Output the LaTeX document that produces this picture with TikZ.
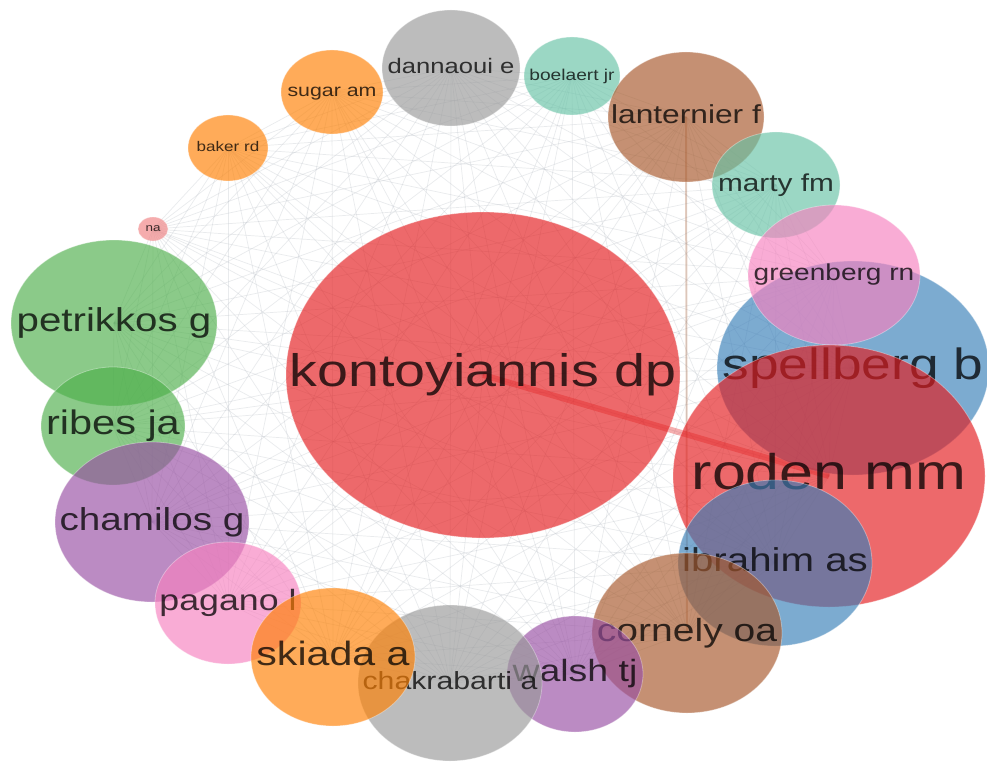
\documentclass[tikz,border=0pt]{standalone}
\usepackage{fontspec}
\usetikzlibrary{shapes.geometric,backgrounds}
\newfontfamily\lblfont[FakeStretch=1.22]{Liberation Sans}
\definecolor{cRed}{HTML}{E41A1C}
\definecolor{cGreen}{HTML}{4DAF4A}
\definecolor{cPurple}{HTML}{984EA3}
\definecolor{cOrange}{HTML}{FF7F00}
\definecolor{cBlue}{HTML}{377EB8}
\definecolor{cBrown}{HTML}{A65628}
\definecolor{cPink}{HTML}{F781BF}
\definecolor{cGray}{HTML}{999999}
\definecolor{cTeal}{HTML}{66C2A5}
\definecolor{cWeb}{HTML}{B8BEC6}
\tikzset{
  ball/.style={ellipse, inner sep=0pt, fill=#1, fill opacity=0.65, draw=white, draw opacity=0.35, line width=0.8pt},
  nm/.style={font=\lblfont\fontsize{#1}{#1}\selectfont, text=black, text opacity=0.75, inner sep=0pt},
  web/.style={draw=cWeb, line width=0.7pt, draw opacity=0.3},
  strongedge/.style={draw=cRed, line width=6pt, draw opacity=0.35},
  brownedge/.style={draw=cBrown, line width=2pt, draw opacity=0.28},
}
\newcommand\bub[8]{%
  \node[ball=#6, minimum width=#4pt, minimum height=#5pt] (#1) at (#2,#3) {};
  \node[nm=#7, anchor=base, yshift=-0.26*#7pt] (#1t) at (#1) {#8};}
\begin{document}
\begin{tikzpicture}[x=1pt,y=-1pt]
\useasboundingbox (0,0) rectangle (987,762);
\bub{na}{153}{229}{30}{24}{cRed!55}{11}{na}
\bub{bk}{228}{148}{80}{66}{cOrange}{14}{baker rd}
\bub{sg}{332}{92}{102}{84}{cOrange}{17.5}{sugar am}
\bub{dn}{451}{68}{138}{116}{cGray}{21}{dannaoui e}
\bub{bo}{572}{76}{96}{78}{cTeal}{15.7}{boelaert jr}
\bub{la}{686}{117}{156}{130}{cBrown}{26}{lanternier f}
\bub{ma}{776}{185}{128}{106}{cTeal}{24.4}{marty fm}
\bub{sp}{853}{368}{272}{214}{cBlue}{43.7}{spellberg b}
\bub{gr}{834}{275}{172}{140}{cPink}{23}{greenberg rn}
\bub{ro}{829}{476}{312}{262}{cRed}{50}{roden mm}
\bub{ib}{775}{563}{194}{166}{cBlue}{33}{ibrahim as}
\bub{ko}{483}{375}{394}{326}{cRed}{45.6}{kontoyiannis dp}
\bub{pe}{114}{323}{206}{166}{cGreen}{33}{petrikkos g}
\bub{ri}{113}{426}{144}{118}{cGreen}{34}{ribes ja}
\bub{ch}{152}{522}{194}{160}{cPurple}{31.7}{chamilos g}
\bub{pa}{228}{603}{146}{122}{cPink}{29.3}{pagano l}
\bub{co}{687}{633}{190}{160}{cBrown}{32}{cornely oa}
\bub{wa}{575}{674}{136}{116}{cPurple}{30.7}{walsh tj}
\bub{ck}{450}{683}{184}{156}{cGray}{24.8}{chakrabarti a}
\bub{sk}{333}{657}{164}{138}{cOrange}{33.7}{skiada a}
\begin{pgfonlayer}{background}
  \fill[white] (0,0) rectangle (987,762);
  \foreach \u [count=\i] in {na,bk,sg,dn,bo,la,ma,sp,gr,ro,ib,ko,pe,ri,ch,pa,co,wa,ck,sk}{
    \foreach \v [count=\j] in {na,bk,sg,dn,bo,la,ma,sp,gr,ro,ib,ko,pe,ri,ch,pa,co,wa,ck,sk}{
      \ifnum\j>\i \draw[web] (\u.center) -- (\v.center);\fi
    }
  }
  \draw[strongedge] (ko.center) -- (ro.center);
  \draw[brownedge] (la.center) -- (co.center);
\end{pgfonlayer}
\end{tikzpicture}
\end{document}
